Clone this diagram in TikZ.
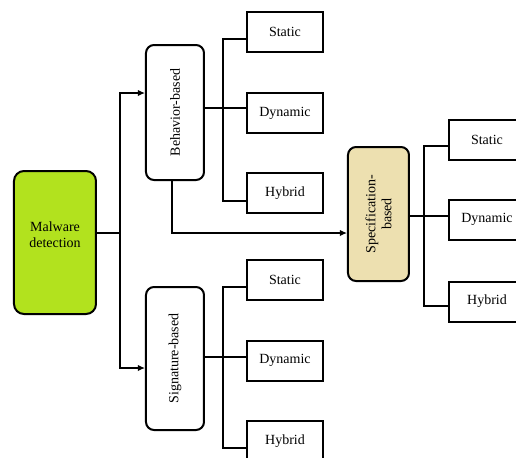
\documentclass[tikz,border=0pt]{standalone}
\usepackage{fontspec}
\setmainfont{Liberation Serif}
\usetikzlibrary{arrows.meta}
\definecolor{limefill}{RGB}{178,226,30}
\definecolor{specfill}{RGB}{237,224,176}

\begin{document}
\begin{tikzpicture}[x=0.5pt, y=-0.5pt, line width=1pt, >={Latex[length=3.5pt,width=3.2pt]},
    font=\fontsize{7}{8}\selectfont,
    leaf/.style={draw, minimum width=38pt, minimum height=20pt, inner sep=0pt},
    family/.style={draw, rounded corners=4pt, rotate=90, minimum width=67.5pt, minimum height=29pt, inner sep=0pt, align=center}]

    \clip (0,0) rectangle (516,457);

    % root
    \node[draw, rounded corners=5pt, fill=limefill, minimum width=41pt, minimum height=71.5pt, inner sep=0pt] (mal) at (55,242.5) {};
    \node[align=center, inner sep=0pt] (maltext) at ([yshift=4pt]mal.center) {Malware\\detection};

    % the three families
    \node[family] (beh) at (175,112.5) {Behavior-based};
    \node[family, minimum width=71.5pt] (sig) at (175,358.5) {Signature-based};
    \node[family, fill=specfill, minimum width=67pt, minimum height=30.5pt] (spec) at (378.5,214) {Specification-\\based};

    % leaves
    \node[leaf] (bs) at (285,32) {Static};
    \node[leaf] (bd) at (285,113) {Dynamic};
    \node[leaf] (bh) at (285,193) {Hybrid};
    \node[leaf] (ss) at (285,280) {Static};
    \node[leaf] (sd) at (285,360.5) {Dynamic};
    \node[leaf] (sh) at (285,441) {Hybrid};
    \node[leaf] (ps) at (487,140) {Static};
    \node[leaf] (pd) at (487,219.5) {Dynamic};
    \node[leaf] (ph) at (487,301.5) {Hybrid};

    %%%%%%%%%%%%%%%%%%% trunk
    \coordinate (trunk) at (120,233);
    \coordinate (tup) at (120,93);
    \coordinate (tdown) at (120,368);
    \draw (mal.east |- trunk) -- (trunk);
    \draw [->] (trunk) -- (tup) -- (beh.north |- tup);
    \draw [->] (trunk) -- (tdown) -- (sig.north |- tdown);

    %%%%%%%%%%%%%%%%%%% behavior-based
    \coordinate (bj) at (223,108);
    \draw (beh.south |- bj) -- (bj) -- (bd.west |- bj);
    \draw ([yshift=-3.5pt]bs.west) -| (bj) |- ([yshift=-4pt]bh.west);
    \coordinate (bk) at (172,233);
    \draw [->] (beh.west -| bk) -- (bk) -- (spec.north |- bk);

    %%%%%%%%%%%%%%%%%%% signature-based
    \coordinate (sj) at (223,357);
    \draw (sig.south |- sj) -- (sj) -- (sd.west |- sj);
    \draw ([yshift=-3.5pt]ss.west) -| (sj) |- ([yshift=-3.5pt]sh.west);

    %%%%%%%%%%%%%%%%%%% specification-based
    \coordinate (pj) at (424,216);
    \draw (spec.south |- pj) -- (pj) -- (pd.west |- pj);
    \draw ([yshift=-3pt]ps.west) -| (pj) |- ([yshift=-2.25pt]ph.west);

\end{tikzpicture}
\end{document}
